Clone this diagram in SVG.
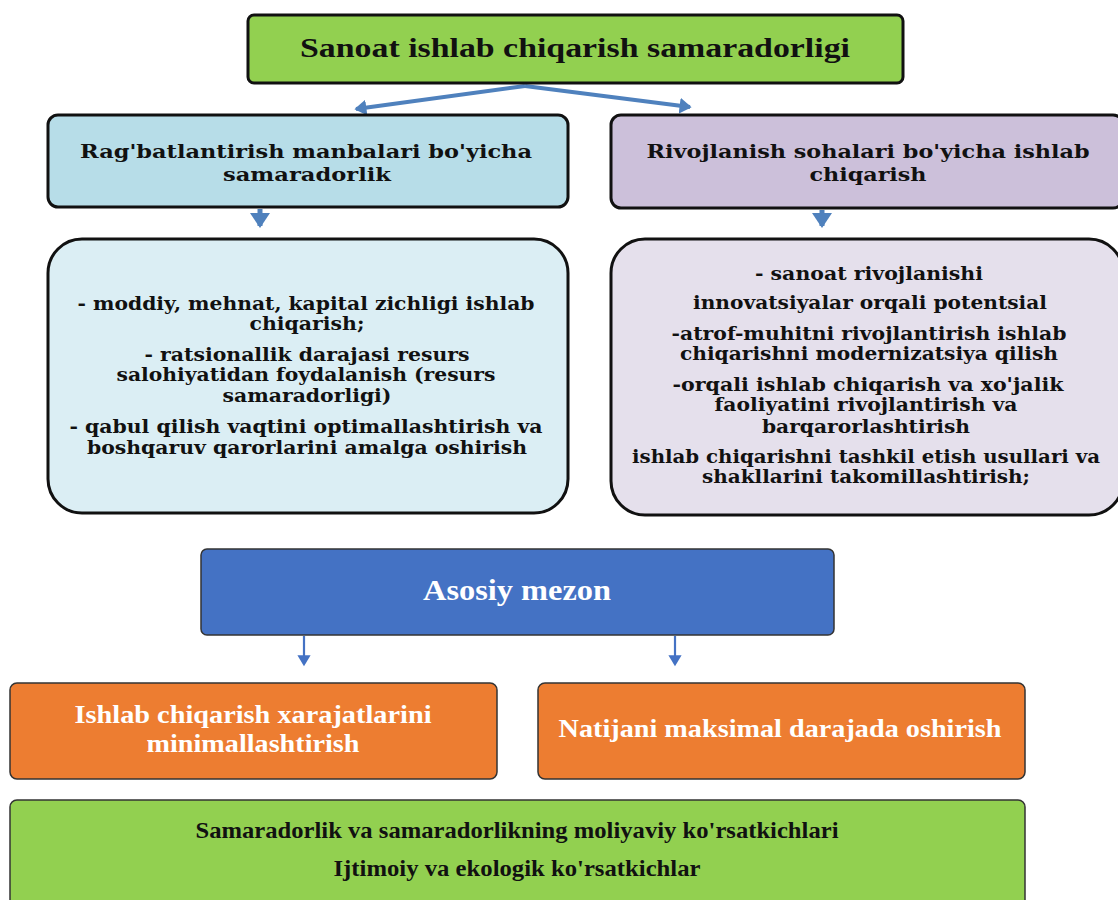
<svg xmlns="http://www.w3.org/2000/svg" width="1118" height="900" viewBox="0 0 1118 900">
<style>
.box{stroke:#111;stroke-width:3}
.lbox{stroke:#333;stroke-width:1.5}
.tt{font-family:"Liberation Serif","Times New Roman",serif;font-weight:bold;text-anchor:middle}
.wd{font-family:"DejaVu Serif","Liberation Serif",serif;font-weight:bold;text-anchor:middle;fill:#111}
.conn{stroke:#4F81BD;fill:none}
</style>
<defs>
<marker id="ah" markerWidth="4" markerHeight="4" refX="2.6" refY="2" orient="auto" markerUnits="strokeWidth">
<path d="M0,0 L3,2 L0,4 z" fill="#4F81BD"/>
</marker>
<marker id="ah2" markerWidth="6" markerHeight="6" refX="4" refY="3" orient="auto" markerUnits="strokeWidth">
<path d="M0,0 L5,3 L0,6 z" fill="#4472C4"/>
</marker>
</defs>
<g id="connectors">
<line class="conn" x1="525" y1="86" x2="356" y2="109" stroke-width="4" marker-end="url(#ah)"/>
<line class="conn" x1="525" y1="86" x2="690" y2="107" stroke-width="4" marker-end="url(#ah)"/>
<line class="conn" x1="260" y1="209" x2="260" y2="226" stroke-width="5" marker-end="url(#ah)"/>
<line class="conn" x1="822" y1="210" x2="822" y2="226" stroke-width="5" marker-end="url(#ah)"/>
<line x1="304" y1="636" x2="304" y2="664" stroke="#4472C4" stroke-width="2.2" marker-end="url(#ah2)"/>
<line x1="675" y1="636" x2="675" y2="664" stroke="#4472C4" stroke-width="2.2" marker-end="url(#ah2)"/>
</g>
<g id="n-title">
<rect class="box" x="248" y="15" width="655" height="68" rx="6" fill="#92D050"/>
<text class="tt" x="575" y="57" font-size="27" textLength="550" lengthAdjust="spacingAndGlyphs" fill="#111">Sanoat ishlab chiqarish samaradorligi</text>
</g>
<g id="n-left-head">
<rect class="box" x="48" y="115" width="520" height="92" rx="10" fill="#B7DDE8"/>
<text class="wd" x="306" y="158" font-size="19" textLength="452" lengthAdjust="spacingAndGlyphs">Rag'batlantirish manbalari bo'yicha</text>
<text class="wd" x="307" y="181" font-size="19" textLength="168" lengthAdjust="spacingAndGlyphs">samaradorlik</text>
</g>
<g id="n-right-head">
<rect class="box" x="611" y="115" width="512" height="93" rx="10" fill="#CCC0DA"/>
<text class="wd" x="868" y="158" font-size="19" textLength="443" lengthAdjust="spacingAndGlyphs">Rivojlanish sohalari bo'yicha ishlab</text>
<text class="wd" x="868" y="181" font-size="19" textLength="117" lengthAdjust="spacingAndGlyphs">chiqarish</text>
</g>
<g id="n-left-body">
<rect class="box" x="48" y="239" width="520" height="274" rx="34" fill="#DBEEF4"/>
<g font-size="18">
<text class="wd" x="306" y="310" textLength="457" lengthAdjust="spacingAndGlyphs">- moddiy, mehnat, kapital zichligi ishlab</text>
<text class="wd" x="307" y="330" textLength="115" lengthAdjust="spacingAndGlyphs">chiqarish;</text>
<text class="wd" x="307" y="361" textLength="325" lengthAdjust="spacingAndGlyphs">- ratsionallik darajasi resurs</text>
<text class="wd" x="306" y="381" textLength="379" lengthAdjust="spacingAndGlyphs">salohiyatidan foydalanish (resurs</text>
<text class="wd" x="307" y="402" textLength="169" lengthAdjust="spacingAndGlyphs">samaradorligi)</text>
<text class="wd" x="306" y="433" textLength="473" lengthAdjust="spacingAndGlyphs">- qabul qilish vaqtini optimallashtirish va</text>
<text class="wd" x="307" y="454" textLength="440" lengthAdjust="spacingAndGlyphs">boshqaruv qarorlarini amalga oshirish</text>
</g>
</g>
<g id="n-right-body">
<rect class="box" x="611" y="239" width="512" height="276" rx="34" fill="#E5E0EC"/>
<g font-size="18">
<text class="wd" x="869" y="280" textLength="228" lengthAdjust="spacingAndGlyphs">- sanoat rivojlanishi</text>
<text class="wd" x="870" y="309" textLength="354" lengthAdjust="spacingAndGlyphs">innovatsiyalar orqali potentsial</text>
<text class="wd" x="869" y="340" textLength="395" lengthAdjust="spacingAndGlyphs">-atrof-muhitni rivojlantirish ishlab</text>
<text class="wd" x="869" y="360" textLength="378" lengthAdjust="spacingAndGlyphs">chiqarishni modernizatsiya qilish</text>
<text class="wd" x="868" y="391" textLength="391" lengthAdjust="spacingAndGlyphs">-orqali ishlab chiqarish va xo'jalik</text>
<text class="wd" x="866" y="411" textLength="303" lengthAdjust="spacingAndGlyphs">faoliyatini rivojlantirish va</text>
<text class="wd" x="866" y="433" textLength="208" lengthAdjust="spacingAndGlyphs">barqarorlashtirish</text>
<text class="wd" x="866" y="463" textLength="468" lengthAdjust="spacingAndGlyphs">ishlab chiqarishni tashkil etish usullari va</text>
<text class="wd" x="866" y="483" textLength="328" lengthAdjust="spacingAndGlyphs">shakllarini takomillashtirish;</text>
</g>
</g>
<g id="n-mezon">
<rect class="lbox" x="201" y="549" width="633" height="86" rx="6" fill="#4472C4"/>
<text class="tt" x="517" y="600" font-size="30" textLength="188" lengthAdjust="spacingAndGlyphs" fill="#fff">Asosiy mezon</text>
</g>
<g id="n-min">
<rect class="lbox" x="10" y="683" width="487" height="96" rx="7" fill="#ED7D31"/>
<text class="tt" x="253" y="723" font-size="26" textLength="357" lengthAdjust="spacingAndGlyphs" fill="#fff">Ishlab chiqarish xarajatlarini</text>
<text class="tt" x="253" y="752" font-size="26" textLength="213" lengthAdjust="spacingAndGlyphs" fill="#fff">minimallashtirish</text>
</g>
<g id="n-max">
<rect class="lbox" x="538" y="683" width="487" height="96" rx="7" fill="#ED7D31"/>
<text class="tt" x="780" y="737" font-size="26" textLength="443" lengthAdjust="spacingAndGlyphs" fill="#fff">Natijani maksimal darajada oshirish</text>
</g>
<g id="n-bottom">
<rect class="lbox" x="10" y="800" width="1015" height="115" rx="7" fill="#92D050"/>
<text class="tt" x="517" y="838" font-size="23" textLength="643" lengthAdjust="spacingAndGlyphs" fill="#111">Samaradorlik va samaradorlikning moliyaviy ko'rsatkichlari</text>
<text class="tt" x="517" y="876" font-size="23" textLength="367" lengthAdjust="spacingAndGlyphs" fill="#111">Ijtimoiy va ekologik ko'rsatkichlar</text>
</g>
</svg>
